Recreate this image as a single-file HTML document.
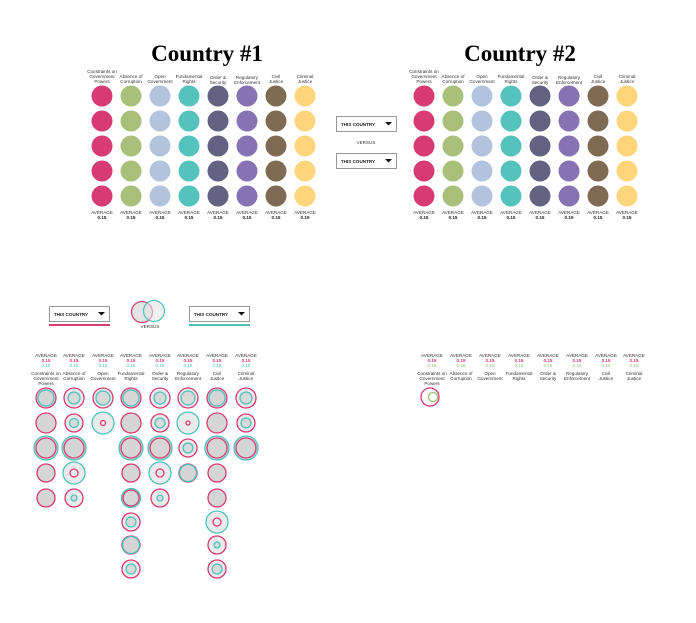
<!DOCTYPE html>
<html><head><meta charset="utf-8"><style>
body{margin:0;background:#fff;}
svg{display:block;font-family:"Liberation Sans",sans-serif;}
.t{font-family:"Liberation Serif",serif;font-weight:bold;font-size:23px;text-anchor:middle;}
.l{font-size:4.6px;fill:#333;text-anchor:middle;}
.b{font-size:4.6px;fill:#222;text-anchor:middle;font-weight:bold;}
.p{font-size:4.6px;fill:#d83a74;text-anchor:middle;font-weight:bold;}
.c{font-size:4.6px;fill:#4cc3bd;text-anchor:middle;}
.g{font-size:4.6px;fill:#9dc06e;text-anchor:middle;}
.dd{fill:#fff;stroke:#999;stroke-width:1;}
</style></head><body>
<svg id="s" width="696" height="623" viewBox="0 0 696 623" xmlns="http://www.w3.org/2000/svg">
<text class="t" x="207" y="61">Country #1</text>
<text class="t" x="520" y="61">Country #2</text>

<g id="lab1">
<text class="l" x="102" y="73">Constraints on</text><text class="l" x="102" y="78">Government</text><text class="l" x="102" y="83">Powers</text>
<text class="l" x="131" y="78">Absence of</text><text class="l" x="131" y="83">Corruption</text>
<text class="l" x="160" y="78">Open</text><text class="l" x="160" y="83">Government</text>
<text class="l" x="189" y="78">Fundamental</text><text class="l" x="189" y="83">Rights</text>
<text class="l" x="218" y="79">Order &amp;</text><text class="l" x="218" y="84">Security</text>
<text class="l" x="247" y="79">Regulatory</text><text class="l" x="247" y="84">Enforcement</text>
<text class="l" x="276" y="78">Civil</text><text class="l" x="276" y="83">Justice</text>
<text class="l" x="305" y="78">Criminal</text><text class="l" x="305" y="83">Justice</text>
</g>
<g>
<text class="l" x="424" y="73">Constraints on</text><text class="l" x="424" y="78">Government</text><text class="l" x="424" y="83">Powers</text>
<text class="l" x="453" y="78">Absence of</text><text class="l" x="453" y="83">Corruption</text>
<text class="l" x="482" y="78">Open</text><text class="l" x="482" y="83">Government</text>
<text class="l" x="511" y="78">Fundamental</text><text class="l" x="511" y="83">Rights</text>
<text class="l" x="540" y="79">Order &amp;</text><text class="l" x="540" y="84">Security</text>
<text class="l" x="569" y="79">Regulatory</text><text class="l" x="569" y="84">Enforcement</text>
<text class="l" x="598" y="78">Civil</text><text class="l" x="598" y="83">Justice</text>
<text class="l" x="627" y="78">Criminal</text><text class="l" x="627" y="83">Justice</text>
</g>
<g>
<text class="l" x="102" y="214">AVERAGE</text><text class="b" x="102" y="219">0.15</text>
<text class="l" x="131" y="214">AVERAGE</text><text class="b" x="131" y="219">0.15</text>
<text class="l" x="160" y="214">AVERAGE</text><text class="b" x="160" y="219">0.15</text>
<text class="l" x="189" y="214">AVERAGE</text><text class="b" x="189" y="219">0.15</text>
<text class="l" x="218" y="214">AVERAGE</text><text class="b" x="218" y="219">0.15</text>
<text class="l" x="247" y="214">AVERAGE</text><text class="b" x="247" y="219">0.15</text>
<text class="l" x="276" y="214">AVERAGE</text><text class="b" x="276" y="219">0.15</text>
<text class="l" x="305" y="214">AVERAGE</text><text class="b" x="305" y="219">0.15</text>
<text class="l" x="424" y="214">AVERAGE</text><text class="b" x="424" y="219">0.15</text>
<text class="l" x="453" y="214">AVERAGE</text><text class="b" x="453" y="219">0.15</text>
<text class="l" x="482" y="214">AVERAGE</text><text class="b" x="482" y="219">0.15</text>
<text class="l" x="511" y="214">AVERAGE</text><text class="b" x="511" y="219">0.15</text>
<text class="l" x="540" y="214">AVERAGE</text><text class="b" x="540" y="219">0.15</text>
<text class="l" x="569" y="214">AVERAGE</text><text class="b" x="569" y="219">0.15</text>
<text class="l" x="598" y="214">AVERAGE</text><text class="b" x="598" y="219">0.15</text>
<text class="l" x="627" y="214">AVERAGE</text><text class="b" x="627" y="219">0.15</text>
</g>

<!-- middle dropdowns -->
<rect class="dd" x="336.5" y="116.5" width="60" height="15"/>
<text class="b" x="358" y="126">THIS COUNTRY</text><path d="M385 122h7l-3.5 3.5z" fill="#111"/>
<text class="l" x="366" y="144" fill="#999">VERSUS</text>
<rect class="dd" x="336.5" y="153.5" width="60" height="15"/>
<text class="b" x="358" y="163">THIS COUNTRY</text><path d="M385 159h7l-3.5 3.5z" fill="#111"/>

<!-- bottom left controls -->
<rect class="dd" x="49.5" y="306.5" width="60" height="15"/>
<text class="b" x="71" y="316">THIS COUNTRY</text><path d="M98 312h7l-3.5 3.5z" fill="#111"/>
<rect x="49" y="324" width="61" height="2" fill="#d83a74"/>
<rect class="dd" x="189.5" y="306.5" width="60" height="15"/>
<text class="b" x="211" y="316">THIS COUNTRY</text><path d="M238 312h7l-3.5 3.5z" fill="#111"/>
<rect x="189" y="324" width="61" height="2" fill="#4cc3bd"/>
<circle cx="142" cy="312" r="10.5" fill="#e4e4e4" stroke="#d83a74" stroke-width="1.2"/>
<circle cx="154" cy="311" r="10.5" fill="#e4e4e4" fill-opacity="0.6" stroke="#4cc3bd" stroke-width="1.2"/>
<text class="l" x="150" y="328">VERSUS</text>

<g>
<text class="l" x="46" y="357">AVERAGE</text><text class="p" x="46" y="362">0.15</text><text class="c" x="46" y="367">0.15</text>
<text class="l" x="74" y="357">AVERAGE</text><text class="p" x="74" y="362">0.15</text><text class="c" x="74" y="367">0.15</text>
<text class="l" x="103" y="357">AVERAGE</text><text class="p" x="103" y="362">0.15</text><text class="c" x="103" y="367">0.15</text>
<text class="l" x="131" y="357">AVERAGE</text><text class="p" x="131" y="362">0.15</text><text class="c" x="131" y="367">0.15</text>
<text class="l" x="160" y="357">AVERAGE</text><text class="p" x="160" y="362">0.15</text><text class="c" x="160" y="367">0.15</text>
<text class="l" x="188" y="357">AVERAGE</text><text class="p" x="188" y="362">0.15</text><text class="c" x="188" y="367">0.15</text>
<text class="l" x="217" y="357">AVERAGE</text><text class="p" x="217" y="362">0.15</text><text class="c" x="217" y="367">0.15</text>
<text class="l" x="246" y="357">AVERAGE</text><text class="p" x="246" y="362">0.15</text><text class="c" x="246" y="367">0.15</text>
<text class="l" x="46" y="375">Constraints on</text><text class="l" x="46" y="380">Government</text><text class="l" x="46" y="385">Powers</text>
<text class="l" x="74" y="375">Absence of</text><text class="l" x="74" y="380">Corruption</text>
<text class="l" x="103" y="375">Open</text><text class="l" x="103" y="380">Government</text>
<text class="l" x="131" y="375">Fundamental</text><text class="l" x="131" y="380">Rights</text>
<text class="l" x="160" y="375">Order &amp;</text><text class="l" x="160" y="380">Security</text>
<text class="l" x="188" y="375">Regulatory</text><text class="l" x="188" y="380">Enforcement</text>
<text class="l" x="217" y="375">Civil</text><text class="l" x="217" y="380">Justice</text>
<text class="l" x="246" y="375">Criminal</text><text class="l" x="246" y="380">Justice</text>
</g>
<g>
<text class="l" x="432" y="357">AVERAGE</text><text class="p" x="432" y="362">0.15</text><text class="g" x="432" y="367">0.15</text>
<text class="l" x="461" y="357">AVERAGE</text><text class="p" x="461" y="362">0.15</text><text class="g" x="461" y="367">0.15</text>
<text class="l" x="490" y="357">AVERAGE</text><text class="p" x="490" y="362">0.15</text><text class="g" x="490" y="367">0.15</text>
<text class="l" x="519" y="357">AVERAGE</text><text class="p" x="519" y="362">0.15</text><text class="g" x="519" y="367">0.15</text>
<text class="l" x="548" y="357">AVERAGE</text><text class="p" x="548" y="362">0.15</text><text class="g" x="548" y="367">0.15</text>
<text class="l" x="577" y="357">AVERAGE</text><text class="p" x="577" y="362">0.15</text><text class="g" x="577" y="367">0.15</text>
<text class="l" x="606" y="357">AVERAGE</text><text class="p" x="606" y="362">0.15</text><text class="g" x="606" y="367">0.15</text>
<text class="l" x="634" y="357">AVERAGE</text><text class="p" x="634" y="362">0.15</text><text class="g" x="634" y="367">0.15</text>
<text class="l" x="432" y="375">Constraints on</text><text class="l" x="432" y="380">Government</text><text class="l" x="432" y="385">Powers</text>
<text class="l" x="461" y="375">Absence of</text><text class="l" x="461" y="380">Corruption</text>
<text class="l" x="490" y="375">Open</text><text class="l" x="490" y="380">Government</text>
<text class="l" x="519" y="375">Fundamental</text><text class="l" x="519" y="380">Rights</text>
<text class="l" x="548" y="375">Order &amp;</text><text class="l" x="548" y="380">Security</text>
<text class="l" x="577" y="375">Regulatory</text><text class="l" x="577" y="380">Enforcement</text>
<text class="l" x="606" y="375">Civil</text><text class="l" x="606" y="380">Justice</text>
<text class="l" x="634" y="375">Criminal</text><text class="l" x="634" y="380">Justice</text>
</g>
<circle cx="430" cy="397" r="9" fill="#fff" stroke="#d83a74" stroke-width="1.3"/>
<circle cx="433" cy="397" r="4.5" fill="#fff" stroke="#9dc06e" stroke-width="1.3"/>
<g id="dots"></g>
</svg>
<script>
var NS="http://www.w3.org/2000/svg",g=document.getElementById("dots");
function C(x,y,r,f,s,w){var c=document.createElementNS(NS,"circle");c.setAttribute("cx",x);c.setAttribute("cy",y);c.setAttribute("r",r);c.setAttribute("fill",f||"none");if(s){c.setAttribute("stroke",s);c.setAttribute("stroke-width",w||1.3);}g.appendChild(c);}
var cols=["#d83a74","#a9c07b","#b2c3de","#55c3bd","#636283","#8773b4","#7f6b53","#fed57a"];
var ys=[96,121,146,171,196];
for(var i=0;i<8;i++)for(var j=0;j<5;j++){C(102+i*29,ys[j],10.5,cols[i]);C(424+i*29,ys[j],10.5,cols[i]);}
var X=[46,74,103,131,160,188,217,246],P="#d83a74",T="#4cc3bd";
var rowY=[398,423,448,473,498,522,545,569];
// [col,row,pinkR,tealR]
var d=[
[0,0,10,8],[1,0,10,6],[2,0,10,7],[3,0,10,8],[4,0,10,6],[5,0,10,7],[6,0,10,8],[7,0,10,6],
[0,1,10,0],[1,1,9,4.5],[2,1,2.5,11],[3,1,10,0],[4,1,9,5],[5,1,2,11],[6,1,10,0],[7,1,9,5],
[0,2,10,12],[1,2,10,12],[3,2,10,12],[4,2,10,12],[5,2,9,5],[6,2,10,12],[7,2,10,12],
[0,3,9,0],[1,3,4,11],[3,3,9,0],[4,3,4,11],[5,3,9,8.5],[6,3,9,0],
[0,4,9,0],[1,4,9,3],[3,4,8,9.5],[4,4,9,3],[6,4,9,0],
[3,5,9,5],[6,5,4,11],
[3,6,9,8.5],[6,6,9,3],
[3,7,9,5],[6,7,9,5]];
d.forEach(function(a){var x=X[a[0]],y=rowY[a[1]],p=a[2],t=a[3];
 var big=Math.max(p,t),sm=Math.min(p,t);
 if(t==0){C(x,y,p,"#d6d6d6",P);return;}
 var innerFill=(big-sm<3)?"#d6d6d6":"#ebebeb";
 C(x,y,big,(big-sm<3)?"#d6d6d6":"#ebebeb");
 if(p>=t){C(x,y,p,"none",P);C(x,y,t,innerFill=="#d6d6d6"?"none":"#d9d9d9",T);}
 else{C(x,y,t,"none",T);C(x,y,p,"none",P);}
});
</script>
</body></html>
